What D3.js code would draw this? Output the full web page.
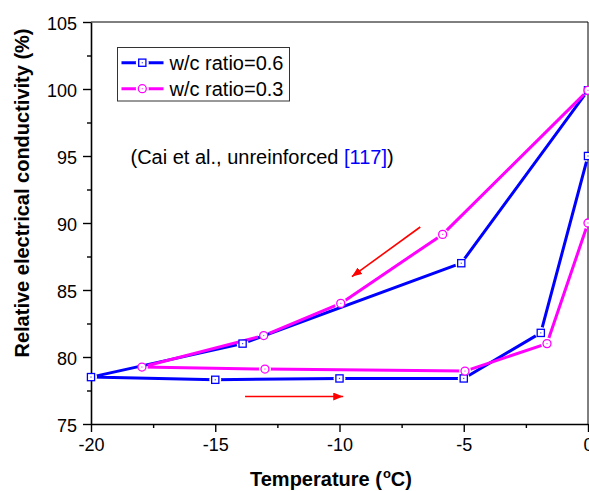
<!DOCTYPE html>
<html lang="en">
<head>
  <meta charset="UTF-8">
  <title>Relative electrical conductivity vs temperature</title>
  <style>
    body { margin: 0; background: #fff; }
    svg { display: block; font-family: Arial, "Liberation Sans", sans-serif; }
  </style>
</head>
<body>
  <div id="chart"></div>
  <script src="https://d3js.org/d3.v7.min.js"></script>
  <script>
    // data (temperature in degC, conductivity in %)
    var blueX = [0, -5.1, -13.9, -20, -15, -10, -5, -1.9, 0];
    var blueY = [99.9, 87, 81, 78.5, 78.3, 78.4, 78.4, 81.8, 95];
    var pinkX = [0, -5.85, -9.95, -13.05, -17.95, -13, -4.95, -1.65, 0];
    var pinkY = [99.9, 89.15, 84.0, 81.6, 79.25, 79.1, 78.95, 81.0, 90];
    var seriesNames = ['w/c ratio=0.6', 'w/c ratio=0.3'];
    var xTicks = [-20, -15, -10, -5, 0];
    var yTicks = [75, 80, 85, 90, 95, 100, 105];
    var xMinor = [-17.5, -12.5, -7.5, -2.5];
    var yMinor = [77.5, 82.5, 87.5, 92.5, 97.5, 102.5];
    // red arrows: [x1, y1, x2, y2] in data units
    var arrows = [[-6.75, 89.7, -9.5, 86.0], [-13.8, 77.05, -9.85, 77.05]];

    var width = 589, height = 491;
    var x = d3.scaleLinear().domain([-20, 0]).range([91, 588]);
    var y = d3.scaleLinear().domain([75, 105]).range([424, 22]);
    var plain = function(d) { return String(d); };  // hyphen minus, as in the figure

    var svg = d3.select('#chart').append('svg')
      .attr('width', width)
      .attr('height', height);
    var defs = svg.append('defs');

    defs.append('marker')
      .attr('id', 'arrowhead')
      .attr('viewBox', '0 0 10 8')
      .attr('refX', 10).attr('refY', 4)
      .attr('markerWidth', 10).attr('markerHeight', 8)
      .attr('markerUnits', 'userSpaceOnUse')
      .attr('orient', 'auto')
      .append('path').attr('d', 'M0,0L10,4L0,8Z').attr('fill', '#ff0000');

    var series = [
      {name: seriesNames[0], xs: blueX, ys: blueY, color: '#0000ff', shape: 'square'},
      {name: seriesNames[1], xs: pinkX, ys: pinkY, color: '#ff00ff', shape: 'circle'}
    ];

    // masks cut a small gap in each line around its own symbols
    series.forEach(function(s, i) {
      var m = defs.append('mask').attr('id', 'gap' + i)
        .attr('maskUnits', 'userSpaceOnUse')
        .attr('x', 0).attr('y', 0).attr('width', width).attr('height', height);
      m.append('rect').attr('width', width).attr('height', height).attr('fill', '#fff');
      s.xs.forEach(function(v, j) {
        m.append('circle').attr('cx', x(v)).attr('cy', y(s.ys[j])).attr('r', 6).attr('fill', '#000');
      });
      // legend symbol
      m.append('circle').attr('cx', 142.3).attr('cy', 62.7 + i * 26).attr('r', 6.5).attr('fill', '#000');
    });

    // axes
    svg.append('g')
      .attr('transform', 'translate(0,424)')
      .call(d3.axisBottom(x).tickValues(xMinor).tickSize(4).tickFormat(''))
      .call(function(g) { g.select('.domain').remove(); });
    svg.append('g')
      .attr('transform', 'translate(91,0)')
      .call(d3.axisLeft(y).tickValues(yMinor).tickSize(4).tickFormat(''))
      .call(function(g) { g.select('.domain').remove(); });

    var xAxis = svg.append('g')
      .attr('transform', 'translate(0,424)')
      .call(d3.axisBottom(x).tickValues(xTicks).tickFormat(plain).tickSize(8).tickPadding(6).tickSizeOuter(0));
    var yAxis = svg.append('g')
      .attr('transform', 'translate(91,0)')
      .call(d3.axisLeft(y).tickValues(yTicks).tickFormat(plain).tickSize(8).tickPadding(6).tickSizeOuter(0));
    [xAxis, yAxis].forEach(function(a) {
      a.selectAll('text').attr('font-size', 18).attr('font-family', 'Arial, "Liberation Sans", sans-serif').attr('fill', '#000');
      a.select('.domain').attr('stroke-width', 1.6);
    });
    yAxis.selectAll('text').attr('dy', '0.4em');
    svg.selectAll('g.tick line').attr('stroke-width', 1.4);

    // top and right frame
    svg.append('path')
      .attr('d', 'M91,22H588V424')
      .attr('fill', 'none').attr('stroke', '#000').attr('stroke-width', 1);

    // lines
    var line = d3.line();
    series.forEach(function(s, i) {
      svg.append('path')
        .attr('d', line(s.xs.map(function(v, j) { return [x(v), y(s.ys[j])]; })))
        .attr('fill', 'none')
        .attr('stroke', s.color)
        .attr('stroke-width', 3)
        .attr('stroke-linejoin', 'round')
        .attr('mask', 'url(#gap' + i + ')');
    });

    function drawSymbol(g, s, cx, cy) {
      if (s.shape === 'square') {
        g.append('rect').attr('x', cx - 3.6).attr('y', cy - 3.6).attr('width', 7.2).attr('height', 7.2)
          .attr('fill', '#fff').attr('stroke', s.color).attr('stroke-width', 1.3);
      } else {
        g.append('circle').attr('cx', cx).attr('cy', cy).attr('r', 4)
          .attr('fill', '#fff').attr('stroke', s.color).attr('stroke-width', 1.3);
      }
      g.append('rect').attr('x', cx - 0.6).attr('y', cy - 0.6).attr('width', 1.2).attr('height', 1.2)
        .attr('fill', s.color).attr('opacity', 0.7);
    }

    series.forEach(function(s) {
      var g = svg.append('g');
      s.xs.forEach(function(v, j) { drawSymbol(g, s, x(v), y(s.ys[j])); });
    });

    // arrows
    svg.append('g').selectAll('line')
      .data(arrows)
      .enter().append('line')
      .attr('x1', function(d) { return x(d[0]); })
      .attr('y1', function(d) { return y(d[1]); })
      .attr('x2', function(d) { return x(d[2]); })
      .attr('y2', function(d) { return y(d[3]); })
      .attr('stroke', '#ff0000')
      .attr('stroke-width', 1.6)
      .attr('marker-end', 'url(#arrowhead)');

    // legend
    var legend = svg.append('g');
    legend.append('rect')
      .attr('x', 117.5).attr('y', 47.5).attr('width', 172).attr('height', 53.5)
      .attr('fill', '#fff').attr('stroke', '#333').attr('stroke-width', 1);
    series.forEach(function(s, i) {
      var ly = 62.7 + i * 26;
      legend.append('line')
        .attr('x1', 121.5).attr('x2', 163.5).attr('y1', ly).attr('y2', ly)
        .attr('stroke', s.color).attr('stroke-width', 3)
        .attr('mask', 'url(#gap' + i + ')');
      drawSymbol(legend, s, 142.3, ly);
      legend.append('text')
        .attr('x', 169.5).attr('y', ly + 7)
        .attr('font-size', 20)
        .text(s.name);
    });

    // note
    var note = svg.append('text')
      .attr('x', 130.5).attr('y', 164)
      .attr('font-size', 20);
    note.append('tspan').text('(Cai et al., unreinforced ');
    note.append('tspan').attr('fill', '#0000ff').text('[117]');
    note.append('tspan').text(')');

    // axis titles
    var xt = svg.append('text')
      .attr('x', 331).attr('y', 486)
      .attr('text-anchor', 'middle')
      .attr('font-size', 20).attr('font-weight', 'bold');
    xt.append('tspan').text('Temperature (');
    xt.append('tspan').attr('font-size', 13).attr('dy', -8).attr('dx', 1).text('o');
    xt.append('tspan').attr('dy', 8).text('C)');

    svg.append('text')
      .attr('transform', 'translate(29,193) rotate(-90)')
      .attr('text-anchor', 'middle')
      .attr('font-size', 20).attr('font-weight', 'bold')
      .text('Relative electrical conductivity (%)');
  </script>
</body>
</html>
